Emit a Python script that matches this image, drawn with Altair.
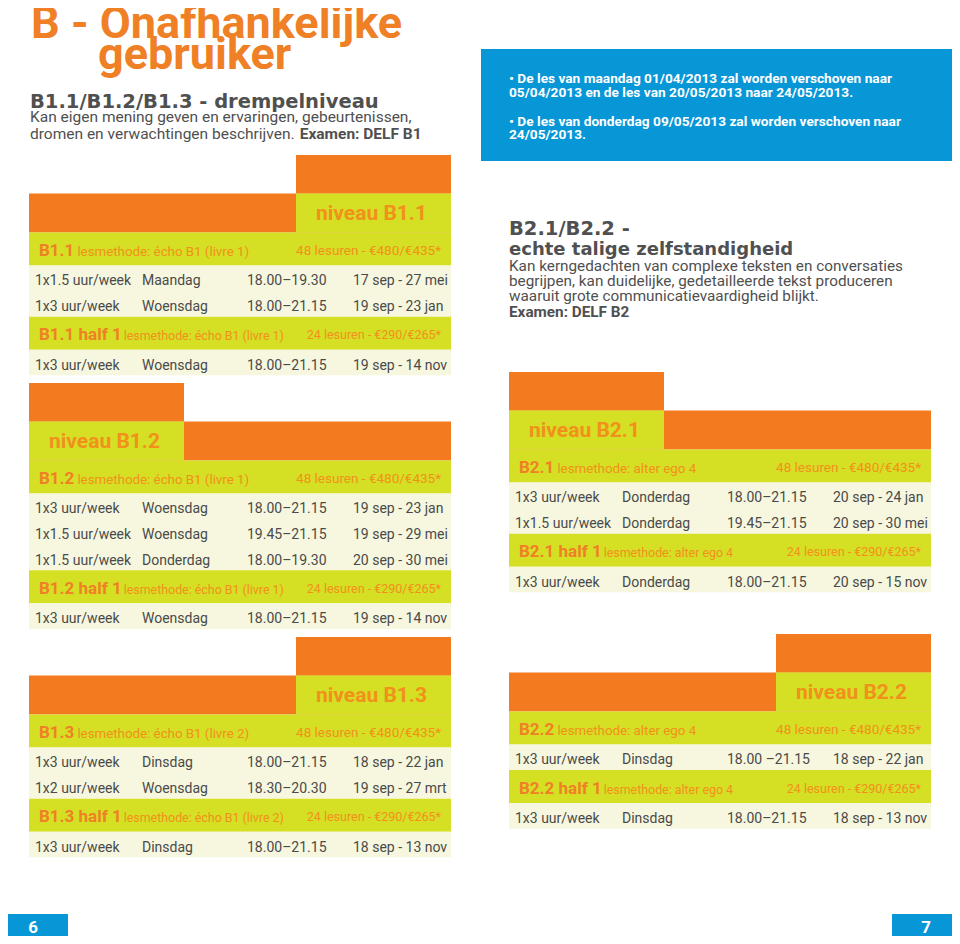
import altair as alt
import pandas as pd

# ---------------- content ----------------
title_lines = ["B - Onafhankelijke", "gebruiker"]
b1_heading = "B1.1/B1.2/B1.3 - drempelniveau"
b1_description = ["Kan eigen mening geven en ervaringen, gebeurtenissen,",
                  "dromen en verwachtingen beschrijven."]
b1_exam = "Examen: DELF B1"
notices = ["• De les van maandag 01/04/2013 zal worden verschoven naar",
           "05/04/2013 en de les van 20/05/2013 naar 24/05/2013.",
           "• De les van donderdag 09/05/2013 zal worden verschoven naar",
           "24/05/2013."]
b2_heading = ["B2.1/B2.2 -", "echte talige zelfstandigheid"]
b2_description = ["Kan kerngedachten van complexe teksten en conversaties",
                  "begrijpen, kan duidelijke, gedetailleerde tekst produceren",
                  "waaruit grote communicatievaardigheid blijkt."]
b2_exam = "Examen: DELF B2"
page_numbers = ["6", "7"]

level_labels = ["niveau B1.1", "niveau B1.2", "niveau B1.3", "niveau B2.1", "niveau B2.2"]
course_codes = ["B1.1", "B1.2", "B1.3", "B2.1", "B2.2"]
half_codes = ["B1.1 half 1", "B1.2 half 1", "B1.3 half 1", "B2.1 half 1", "B2.2 half 1"]
methods = ["lesmethode: écho B1 (livre 1)", "lesmethode: écho B1 (livre 1)",
           "lesmethode: écho B1 (livre 2)", "lesmethode: alter ego 4",
           "lesmethode: alter ego 4"]
full_price = "48 lesuren - €480/€435*"
half_price = "24 lesuren - €290/€265*"

b11_full = [["1x1.5 uur/week", "Maandag", "18.00–19.30", "17 sep - 27 mei"],
            ["1x3 uur/week", "Woensdag", "18.00–21.15", "19 sep - 23 jan"]]
b11_half = [["1x3 uur/week", "Woensdag", "18.00–21.15", "19 sep - 14 nov"]]
b12_full = [["1x3 uur/week", "Woensdag", "18.00–21.15", "19 sep - 23 jan"],
            ["1x1.5 uur/week", "Woensdag", "19.45–21.15", "19 sep - 29 mei"],
            ["1x1.5 uur/week", "Donderdag", "18.00–19.30", "20 sep - 30 mei"]]
b12_half = [["1x3 uur/week", "Woensdag", "18.00–21.15", "19 sep - 14 nov"]]
b13_full = [["1x3 uur/week", "Dinsdag", "18.00–21.15", "18 sep - 22 jan"],
            ["1x2 uur/week", "Woensdag", "18.30–20.30", "19 sep - 27 mrt"]]
b13_half = [["1x3 uur/week", "Dinsdag", "18.00–21.15", "18 sep - 13 nov"]]
b21_full = [["1x3 uur/week", "Donderdag", "18.00–21.15", "20 sep - 24 jan"],
            ["1x1.5 uur/week", "Donderdag", "19.45–21.15", "20 sep - 30 mei"]]
b21_half = [["1x3 uur/week", "Donderdag", "18.00–21.15", "20 sep - 15 nov"]]
b22_full = [["1x3 uur/week", "Dinsdag", "18.00 –21.15", "18 sep - 22 jan"]]
b22_half = [["1x3 uur/week", "Dinsdag", "18.00–21.15", "18 sep - 13 nov"]]

full_rows = [b11_full, b12_full, b13_full, b21_full, b22_full]
half_rows = [b11_half, b12_half, b13_half, b21_half, b22_half]

# ---------------- styling / layout ----------------
ORANGE = "#F47A20"
LIME = "#D5DF24"
CREAM = "#F6F7DE"
BLUE = "#0796D6"
TITLE_ORANGE = "#F08025"
LABEL_ORANGE = "#F2901C"
GRAY = "#505050"
ROW_GRAY = "#4A4A4A"
WHITE = "#FFFFFF"

CHART_W, CHART_H, MARGIN = 944, 928, 8
BLOCK_W, TAB_W = 422, 155
TAB_H, BAND_H, HEAD_H, ROW_H = 38.5, 39, 33, 25.6
COL_OFF = [6, 113, 218, 324]
block_layout = [(29, 155, "right"), (29, 383, "left"), (29, 637, "right"),
                (509, 372, "left"), (509, 634, "right")]

ROBOTO_BOLD = {"B": .628, ".": .271, " ": .243, "h": .545, "a": .527, "l": .261, "f": .347}
ROBOTO_REG = {"a": .544, "b": .548, "c": .510, "d": .550, "e": .517, "f": .338, "g": .548,
              "h": .538, "i": .238, "j": .233, "k": .495, "l": .238, "m": .855, "n": .539,
              "o": .557, "p": .548, "r": .331, "s": .503, "t": .319, "u": .538, "v": .473,
              "w": .733, "x": .484, "y": .462, "z": .484, " ": .248, ".": .257, ",": .192}


def text_width(s, table, size):
    return sum(table.get(c, .562) for c in s) * size


rects, texts = [], []


def rect(x, x2, y, y2, color):
    rects.append(dict(x=x, x2=x2, y=y, y2=y2, color=color))


def text(x, y, label, color, font="Roboto", size=14, weight="normal",
         align="left", baseline="alphabetic"):
    texts.append(dict(x=x, y=y, label=label, color=color, font=font, size=size,
                      weight=weight, align=align, baseline=baseline))


# header texts
text(31, 38, title_lines[0], TITLE_ORANGE, size=45, weight="bold")
text(98, 69, title_lines[1], TITLE_ORANGE, size=45, weight="bold")
text(30, 108, b1_heading, GRAY, font="DejaVu Sans", size=19.5, weight="bold")
text(30, 122, b1_description[0], GRAY, size=15.5)
text(30, 139, b1_description[1], GRAY, size=15.5)
text(30 + text_width(b1_description[1] + " ", ROBOTO_REG, 15.5) + 7, 139, b1_exam, GRAY,
     size=15.5, weight="bold")

# blue notice box
rect(481, 960, 49, 161, BLUE)
for label, base in zip(notices, [83, 97, 126, 139]):
    text(509, base, label, WHITE, size=13.7, weight="bold")

# B2 description
text(509, 235, b2_heading[0], GRAY, font="DejaVu Sans", size=19.5, weight="bold")
text(509, 255, b2_heading[1], GRAY, font="DejaVu Sans", size=18, weight="bold")
for label, base in zip(b2_description, [271, 286, 301]):
    text(509, base, label, GRAY, size=15.3)
text(509, 317, b2_exam, GRAY, size=15.3, weight="bold")

# course blocks
for i, (x0, top, side) in enumerate(block_layout):
    tx0 = x0 + BLOCK_W - TAB_W if side == "right" else x0
    tx1 = tx0 + TAB_W
    rect(tx0, tx1, top, top + TAB_H, ORANGE)
    y = top + TAB_H
    rect(x0, x0 + BLOCK_W, y, y + BAND_H, ORANGE)
    rect(tx0, tx1, y, y + BAND_H, LIME)
    text((tx0 + tx1) / 2 - 2, y + BAND_H / 2 + 1, level_labels[i], LABEL_ORANGE,
         size=21, weight="bold", align="center", baseline="middle")
    y += BAND_H
    for code, rows, price, msize, psize in [
            (course_codes[i], full_rows[i], full_price, 13.3, 13.5),
            (half_codes[i], half_rows[i], half_price, 12.4, 12.5)]:
        rect(x0, x0 + BLOCK_W, y, y + HEAD_H, LIME)
        cy = y + HEAD_H / 2 + 2
        text(x0 + 10, cy, code, TITLE_ORANGE, size=17, weight="bold", baseline="middle")
        text(x0 + 10 + text_width(code, ROBOTO_BOLD, 17) + 4, cy + 1, methods[i],
             LABEL_ORANGE, size=msize, baseline="middle")
        text(x0 + BLOCK_W - 10, cy, price, LABEL_ORANGE, size=psize, align="right",
             baseline="middle")
        y += HEAD_H
        rect(x0, x0 + BLOCK_W, y, y + ROW_H * len(rows), CREAM)
        for row in rows:
            for off, cell in zip(COL_OFF, row):
                text(x0 + off, y + ROW_H / 2 + 3, cell, ROW_GRAY, size=14,
                     baseline="middle")
            y += ROW_H

# page numbers
rect(0, 68, 914, 941, BLUE)
rect(892, 960, 914, 941, BLUE)
text(33, 928, page_numbers[0], WHITE, size=17, weight="bold", align="center",
     baseline="middle")
text(926, 928, page_numbers[1], WHITE, size=17, weight="bold", align="center",
     baseline="middle")

# ---------------- chart ----------------
xs = alt.Scale(domain=[MARGIN, MARGIN + CHART_W], nice=False, zero=False)
ys = alt.Scale(domain=[MARGIN, MARGIN + CHART_H], nice=False, zero=False, reverse=True)

rect_df = pd.DataFrame(rects)
layers = [
    alt.Chart(rect_df).mark_rect().encode(
        x=alt.X("x:Q", scale=xs, axis=None), x2="x2:Q",
        y=alt.Y("y:Q", scale=ys, axis=None), y2="y2:Q",
        color=alt.Color("color:N", scale=None))
]

text_df = pd.DataFrame(texts)
for (font, size, weight, align, baseline), grp in text_df.groupby(
        ["font", "size", "weight", "align", "baseline"], sort=False):
    layers.append(
        alt.Chart(grp.reset_index(drop=True)).mark_text(
            font=font, fontSize=float(size), fontWeight=weight, align=align,
            baseline=baseline).encode(
            x=alt.X("x:Q", scale=xs, axis=None),
            y=alt.Y("y:Q", scale=ys, axis=None),
            text="label:N",
            color=alt.Color("color:N", scale=None)))

chart = alt.layer(*layers).properties(
    width=CHART_W, height=CHART_H, padding=0,
    autosize=alt.AutoSizeParams(type="none"), background="white"
).configure_view(stroke=None)

chart.save("out.html", embed_options={"renderer": "svg", "actions": False})
